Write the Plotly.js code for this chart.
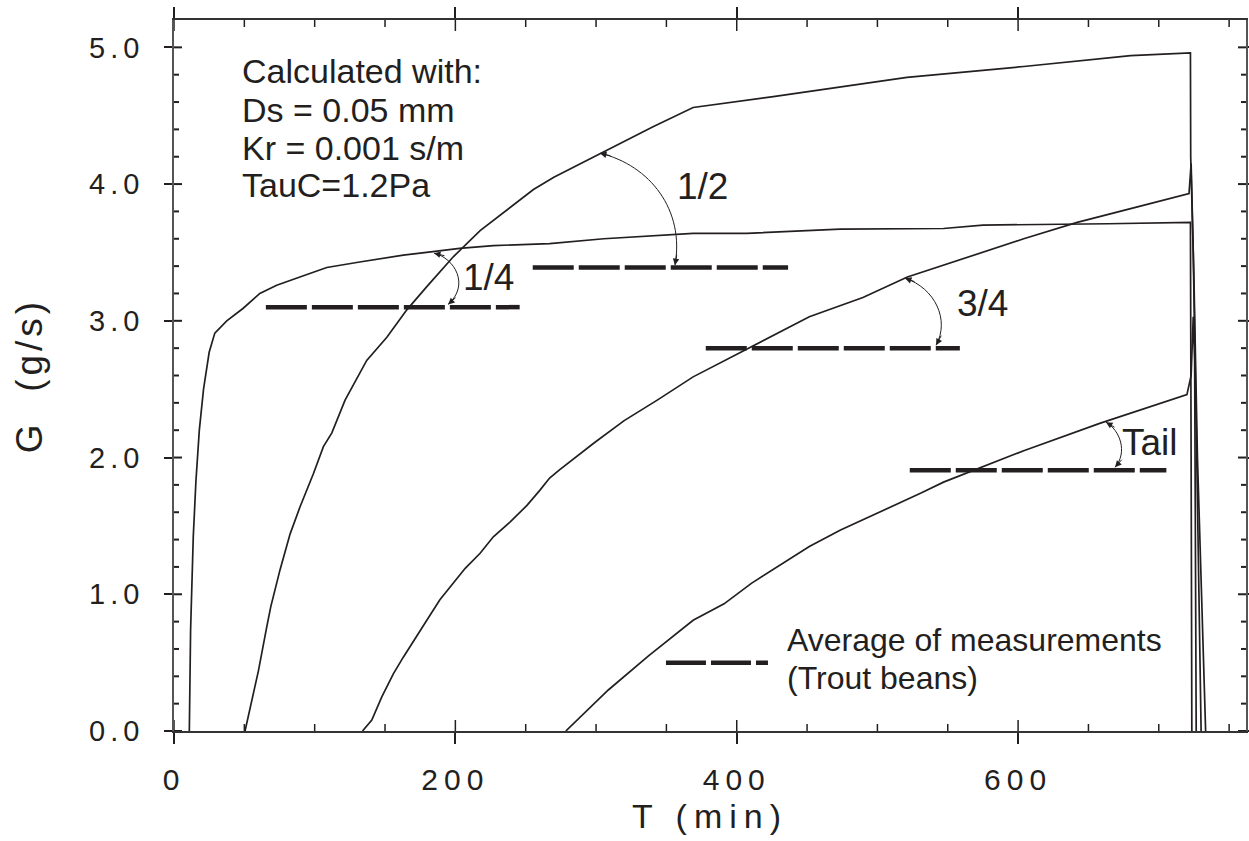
<!DOCTYPE html>
<html>
<head>
<meta charset="utf-8">
<script src="https://cdn.plot.ly/plotly-3.0.1.min.js"></script>
<style>
  html, body { margin: 0; padding: 0; background: #ffffff; }
  #chart { width: 1249px; height: 841px; }
  .xtick text { letter-spacing: 6px; }
  .ytick text { letter-spacing: 5px; }
  .g-xtitle text { letter-spacing: 7px; }
  .g-ytitle text { letter-spacing: 4px; }
</style>
</head>
<body>
<div id="chart"></div>
<script>
// ---------------- data ----------------
// T in min, G in g/s
const tQuarter = [10.9, 11.8, 13.7, 15.6, 18, 21, 25, 29, 37.5, 49, 61, 73, 92, 108.6, 132, 163, 187, 203, 227, 267, 305.5, 369, 407, 473.6, 547, 575, 664, 722.5, 723, 723.5];
const gQuarter = [0, 0.74, 1.42, 1.83, 2.2, 2.5, 2.77, 2.91, 3.0, 3.09, 3.2, 3.26, 3.33, 3.39, 3.43, 3.48, 3.51, 3.53, 3.55, 3.565, 3.60, 3.64, 3.64, 3.67, 3.675, 3.70, 3.71, 3.72, 2.0, 0];

const tHalf = [50.5, 55.3, 60, 65.9, 68.8, 75.4, 82.5, 89.6, 99, 106.2, 112.2, 121.6, 137, 151.3, 165.5, 179.7, 198.7, 217.6, 239, 255.5, 270, 302.3, 340.5, 369, 426, 521, 604, 680, 722.5, 722.7, 724.5, 727, 729, 730.1];
const gHalf = [0, 0.22, 0.44, 0.76, 0.91, 1.18, 1.44, 1.64, 1.88, 2.08, 2.18, 2.42, 2.71, 2.88, 3.08, 3.25, 3.47, 3.66, 3.83, 3.96, 4.05, 4.22, 4.42, 4.56, 4.64, 4.78, 4.86, 4.94, 4.96, 4.2, 3.5, 2.0, 0.8, 0];

const tThreeQuarter = [134, 140.6, 147.7, 156, 163, 170.2, 179.7, 189, 198.7, 207, 217.6, 227, 239, 250.9, 260, 267, 274, 299, 320, 343.5, 369, 400.8, 451.6, 489.7, 521.3, 604, 642, 680, 721.5, 723, 725, 727.5, 731, 733.3];
const gThreeQuarter = [0, 0.08, 0.25, 0.42, 0.54, 0.66, 0.81, 0.96, 1.08, 1.19, 1.30, 1.42, 1.53, 1.65, 1.76, 1.85, 1.91, 2.11, 2.27, 2.42, 2.59, 2.76, 3.03, 3.17, 3.32, 3.60, 3.72, 3.82, 3.93, 4.15, 3.3, 2.0, 0.8, 0];

const tTail = [278.5, 308.7, 337.3, 348.4, 369, 391, 410.4, 451.6, 473.8, 531, 547, 604, 658, 720, 723, 724.5, 725.5, 726, 726.6];
const gTail = [0, 0.30, 0.55, 0.64, 0.81, 0.93, 1.08, 1.35, 1.47, 1.74, 1.82, 2.05, 2.25, 2.46, 2.6, 3.03, 2.7, 1.5, 0];

// Average of measurements (Trout beans): horizontal segments
const avgNames = ['1/4', '1/2', '3/4', 'Tail'];
const avgStart = [65.3, 255, 378, 523];
const avgEnd   = [245.7, 436.5, 558.6, 705.4];
const avgG     = [3.10, 3.39, 2.80, 1.907];

// axis ticks
const xMajor = [0, 200, 400, 600];
const xMinorStep = 50;
const yMajor = [0, 1, 2, 3, 4, 5];
const yMinorStep = 0.2;

// ---------------- styling ----------------
const W = 1249, H = 841;
const M = { l: 174, r: 3, t: 20, b: 110 };
const PLOT_W = W - M.l - M.r, PLOT_H = H - M.t - M.b;
const X_RANGE = [0, 762];
const Y_RANGE = [0, 5.2];
const INK = '#231f20';
const FONT = 'Liberation Sans, Arial, Helvetica, sans-serif';
const DASH = '41px,5px';

const curveSpecs = [
  [tQuarter, gQuarter, 'Calculated 1/4'],
  [tHalf, gHalf, 'Calculated 1/2'],
  [tThreeQuarter, gThreeQuarter, 'Calculated 3/4'],
  [tTail, gTail, 'Calculated tail']
];

const traces = curveSpecs.map(([t, g, name]) => ({
  type: 'scatter', mode: 'lines', x: t, y: g, name: name,
  line: { color: INK, width: 1.7 }, showlegend: false
}));
avgNames.forEach((n, i) => {
  traces.push({
    type: 'scatter', mode: 'lines',
    x: [avgStart[i], avgEnd[i]], y: [avgG[i], avgG[i]],
    name: 'Average of measurements ' + n,
    line: { color: INK, width: 4.5, dash: DASH }, showlegend: false
  });
});

// curved double arrows (data coordinates: start, control1, control2, end)
const arrowCurves = [
  [[184.8, 3.495], [199.7, 3.458], [210.4, 3.26], [194.8, 3.12]],
  [[302.8, 4.226], [338.4, 4.138], [363.2, 3.809], [356.1, 3.407]],
  [[519.6, 3.312], [541.0, 3.239], [551.6, 3.005], [541.7, 2.822]],
  [[662.5, 2.259], [672.4, 2.200], [678.1, 2.039], [668.9, 1.929]]
];
// arrowhead tail offsets in px for (start, end)
const arrowHeadDirs = [
  [[12, 3], [9, -8]],
  [[12, 3], [2, -12]],
  [[11, 4], [6, -11]],
  [[10, 6], [8, -9]]
];

const shapes = arrowCurves.map(c => ({
  type: 'path', xref: 'x', yref: 'y',
  path: 'M ' + c[0].join(',') + ' C ' + c[1].join(',') + ' ' + c[2].join(',') + ' ' + c[3].join(','),
  line: { color: INK, width: 1 }
}));

// legend sample
shapes.push({
  type: 'line', xref: 'x', yref: 'y', x0: 349.7, x1: 422.2, y0: 0.50, y1: 0.50,
  line: { color: INK, width: 4.5, dash: '40px,5px' }
});

// inner halves of the crossing major ticks and the inward minor ticks, on all four sides
function xTick(v, lenPx, width) {
  const f = lenPx / PLOT_H;
  shapes.push({ type: 'line', xref: 'x', yref: 'y domain', x0: v, x1: v, y0: 0, y1: f, line: { color: INK, width: width } });
  shapes.push({ type: 'line', xref: 'x', yref: 'y domain', x0: v, x1: v, y0: 1, y1: 1 - f, line: { color: INK, width: width } });
}
function yTick(v, lenPx, width) {
  const f = lenPx / PLOT_W;
  shapes.push({ type: 'line', xref: 'x domain', yref: 'y', x0: 0, x1: f, y0: v, y1: v, line: { color: INK, width: width } });
  shapes.push({ type: 'line', xref: 'x domain', yref: 'y', x0: 1, x1: 1 - f, y0: v, y1: v, line: { color: INK, width: width } });
}
xMajor.forEach(v => xTick(v, 11, 1.5));
for (let k = 1; k * xMinorStep < X_RANGE[1]; k++) {
  const v = k * xMinorStep;
  if (!xMajor.includes(v)) xTick(v, 7, 1.5);
}
yMajor.forEach(v => yTick(v, 8, 2));
for (let k = 1; k * yMinorStep < Y_RANGE[1] - 1e-9; k++) {
  const v = Math.round(k * yMinorStep * 10) / 10;
  if (!yMajor.includes(v)) yTick(v, 5, 2);
}

const annotations = [];
arrowCurves.forEach((c, i) => {
  [[c[0], arrowHeadDirs[i][0]], [c[3], arrowHeadDirs[i][1]]].forEach(([p, d]) => {
    annotations.push({
      x: p[0], y: p[1], xref: 'x', yref: 'y', text: '', showarrow: true,
      ax: d[0], ay: d[1], arrowhead: 2, arrowsize: 1.3, arrowwidth: 1, arrowcolor: INK, standoff: 0
    });
  });
});

const labelPos = [[223.7, 3.315], [375.5, 3.98], [574.4, 3.125], [693.7, 2.112]];
avgNames.forEach((n, i) => {
  annotations.push({
    x: labelPos[i][0], y: labelPos[i][1], xref: 'x', yref: 'y', text: n, showarrow: false,
    xanchor: 'center', yanchor: 'middle', font: { family: FONT, size: 37, color: INK }
  });
});

const infoLines = ['Calculated with:', 'Ds = 0.05 mm', 'Kr = 0.001 s/m', 'TauC=1.2Pa'];
const infoY = [4.824, 4.543, 4.266, 3.994];
infoLines.forEach((s, i) => {
  annotations.push({
    x: 47.2, y: infoY[i], xref: 'x', yref: 'y', text: s, showarrow: false,
    xanchor: 'left', yanchor: 'middle', font: { family: FONT, size: 34, color: INK }
  });
});

const legendLines = ['Average of measurements', '(Trout beans)'];
const legendY = [0.664, 0.386];
legendLines.forEach((s, i) => {
  annotations.push({
    x: 434.3, y: legendY[i], xref: 'x', yref: 'y', text: s, showarrow: false,
    xanchor: 'left', yanchor: 'middle', font: { family: FONT, size: 32, color: INK }
  });
});

const layout = {
  width: W, height: H,
  margin: { l: M.l, r: M.r, t: M.t, b: M.b, pad: 0 },
  paper_bgcolor: '#ffffff', plot_bgcolor: '#ffffff',
  showlegend: false,
  font: { family: FONT, color: INK },
  xaxis: {
    range: X_RANGE, tickmode: 'array', tickvals: xMajor, ticktext: xMajor.map(String),
    showline: true, linecolor: '#333', linewidth: 1.8, mirror: 'allticks',
    ticks: 'outside', ticklen: 11, tickwidth: 1.5, tickcolor: INK,
    showgrid: false, zeroline: false,
    tickfont: { family: FONT, size: 30, color: INK },
    ticklabelstandoff: 10,
    title: { text: 'T (min)', font: { family: FONT, size: 34, color: INK }, standoff: 9 }
  },
  yaxis: {
    range: Y_RANGE, tickmode: 'array', tickvals: yMajor, ticktext: yMajor.map(v => v.toFixed(1)),
    showline: true, linecolor: '#555', linewidth: 1.5, mirror: 'allticks',
    ticks: 'outside', ticklen: 8, tickwidth: 2, tickcolor: INK,
    showgrid: false, zeroline: false,
    tickfont: { family: FONT, size: 29, color: INK },
    ticklabelstandoff: 14,
    title: { text: 'G  (g/s)', font: { family: FONT, size: 37, color: INK }, standoff: 35 }
  },
  shapes: shapes,
  annotations: annotations
};

Plotly.newPlot('chart', traces, layout, { displayModeBar: false });
</script>
</body>
</html>
